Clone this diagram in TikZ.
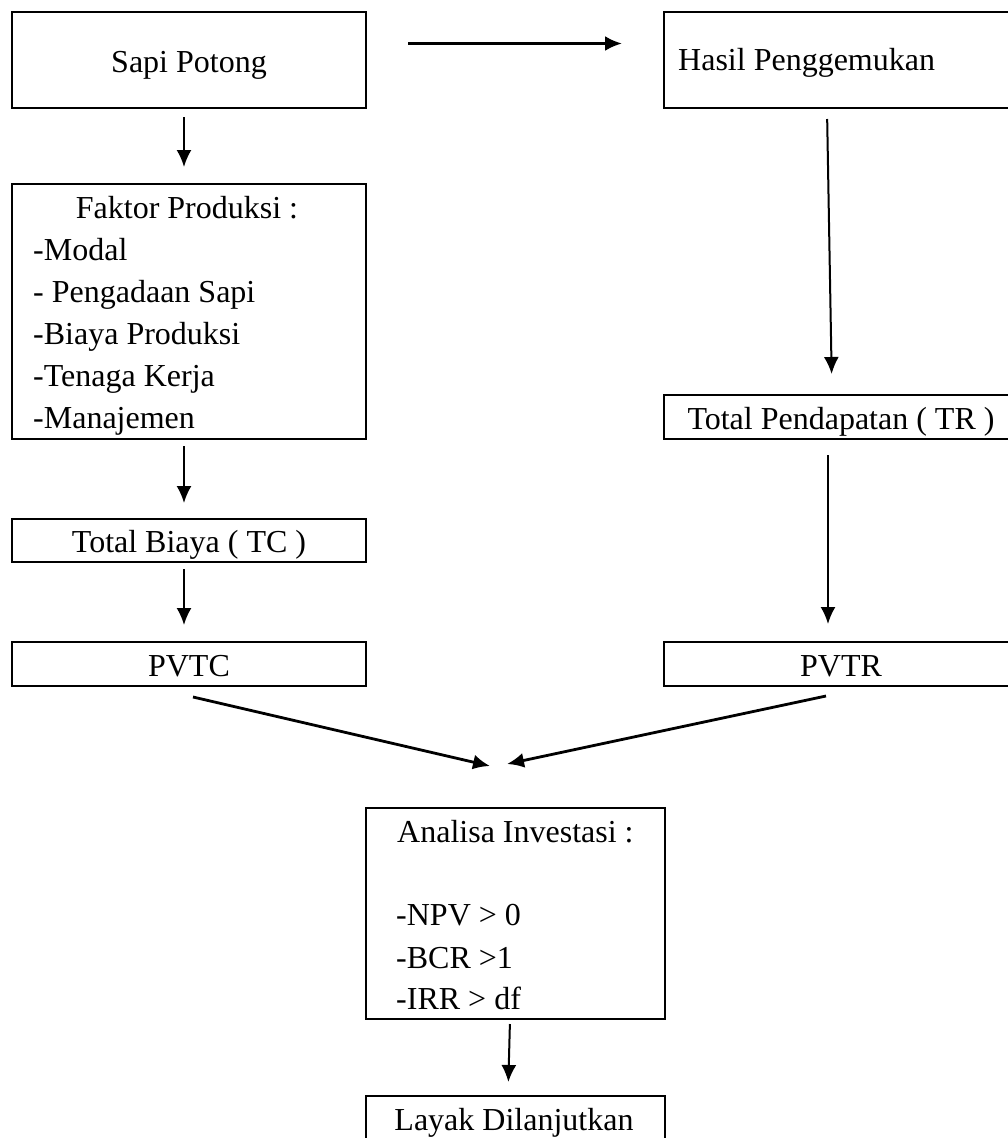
\documentclass[tikz,border=0pt]{standalone}
\usepackage{fontspec}
\setmainfont{Liberation Serif}
\usetikzlibrary{arrows.meta}
\begin{document}
\begin{tikzpicture}[x=1pt,y=-1pt,
  box/.style={draw, line width=2pt, rectangle, anchor=north west, inner sep=0pt,
    text height=30pt, text depth=6pt, font=\fontsize{32}{42}\selectfont},
  txt/.style={inner sep=0pt, font=\fontsize{32}{42}\selectfont},
  arr/.style={line width=2pt, -{Latex[length=17pt,width=15pt]}},
  arrb/.style={line width=2.8pt, -{Latex[length=17pt,width=15pt]}}]
\useasboundingbox (0,0) rectangle (1008,1138);

% boxes
\node[box, minimum width=354pt, minimum height=96pt] (sapi) at (11,11) {Sapi Potong};
\node[box, minimum width=354pt, minimum height=96pt] (hasil) at (663,11) {};
\node[txt, anchor=base west] (hasiltxt) at (678,70) {Hasil Penggemukan};
\node[box, minimum width=354pt, minimum height=255pt] (faktor) at (11,183) {};
\node[txt, anchor=base] (f0) at (187,218) {Faktor Produksi :};
\node[txt, anchor=base west] (f1) at (33,260) {-Modal};
\node[txt, anchor=base west] (f2) at (33,302) {- Pengadaan Sapi};
\node[txt, anchor=base west] (f3) at (33,344) {-Biaya Produksi};
\node[txt, anchor=base west] (f4) at (33,386) {-Tenaga Kerja};
\node[txt, anchor=base west] (f5) at (33,428) {-Manajemen};
\node[box, minimum width=354pt, minimum height=44pt] (tr) at (663,394) {Total Pendapatan ( TR )};
\node[box, minimum width=354pt, minimum height=43pt] (tb) at (11,518) {Total Biaya ( TC )};
\node[box, minimum width=354pt, minimum height=44pt] (pvtc) at (11,641) {PVTC};
\node[box, minimum width=354pt, minimum height=44pt] (pvtr) at (663,641) {PVTR};
\node[box, minimum width=299pt, minimum height=211pt] (analisa) at (365,807) {};
\node[txt, anchor=base west] (a0) at (397,842) {Analisa Investasi :};
\node[txt, anchor=base west] (a1) at (396,925) {-NPV > 0};
\node[txt, anchor=base west] (a2) at (396,968) {-BCR >1};
\node[txt, anchor=base west] (a3) at (396,1009) {-IRR > df};
\node[box, minimum width=299pt, minimum height=70pt] (layak) at (365,1095) {};
\node[txt, anchor=base] (layaktxt) at (514,1130) {Layak Dilanjutkan};

\coordinate (m1) at (490,766);
\coordinate (m2) at (507,764);

% connectors
\draw[arrb, shorten <=41pt, shorten >=41pt] ([yshift=16.5pt]sapi.east) -- ([yshift=16.5pt]hasil.west);
\draw[arr, shorten <=8pt, shorten >=16pt] ([xshift=-5pt]sapi.south) -- ([xshift=-5pt]faktor.north);
\draw[arr, shorten <=6pt, shorten >=15pt] ([xshift=-5pt]faktor.south) -- ([xshift=-5pt]tb.north);
\draw[arr, shorten <=6pt, shorten >=16pt] ([xshift=-5pt]tb.south) -- ([xshift=-5pt]pvtc.north);
\draw[arr, shorten <=10pt, shorten >=20pt] ([xshift=-14pt]hasil.south) -- ([xshift=-9pt]tr.north);
\draw[arr, shorten <=15pt, shorten >=17pt] ([xshift=-13pt]tr.south) -- ([xshift=-13pt]pvtr.north);
\draw[arrb] ([xshift=4pt,yshift=-10pt]pvtc.south) -- (m1);
\draw[arrb] ([xshift=-15pt,yshift=-9pt]pvtr.south) -- (m2);
\draw[arr, shorten <=4pt, shorten >=13pt] ([xshift=-5.5pt]analisa.south) -- ([xshift=-7.5pt]layak.north);
\end{tikzpicture}
\end{document}
